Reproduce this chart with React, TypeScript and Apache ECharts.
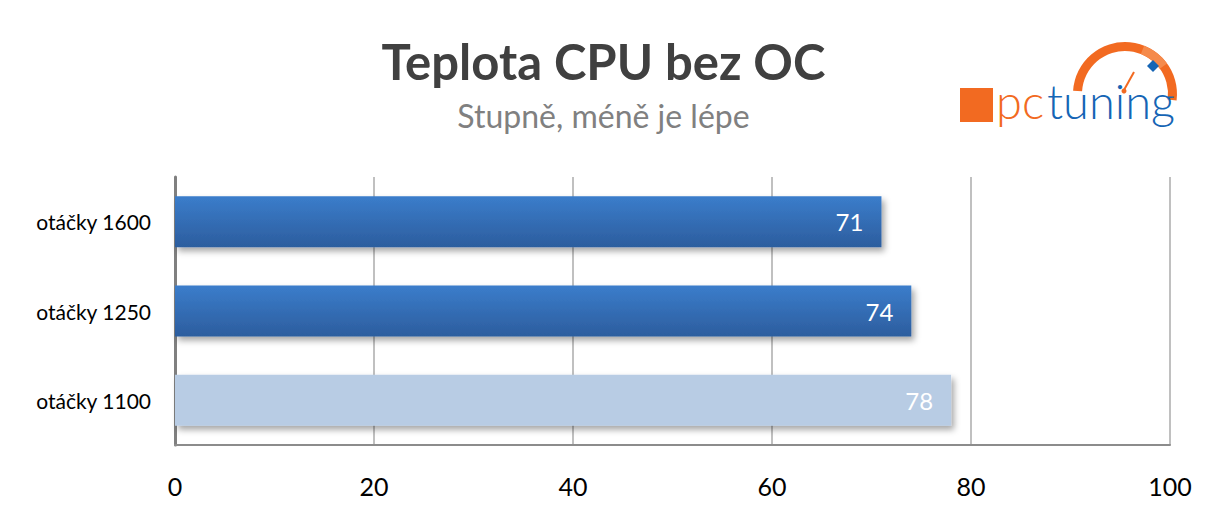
import React, { useEffect, useRef } from "react";
import * as echarts from "echarts";

const categories = ["otáčky 1600", "otáčky 1250", "otáčky 1100"];
const values = [71, 74, 78];
const highlight = [false, false, true];
const xTicks = [0, 20, 40, 60, 80, 100];
const titleText = "Teplota CPU bez OC";
const subtitleText = "Stupně, méně je lépe";

export default function App() {
  const ref = useRef<HTMLDivElement>(null);
  useEffect(() => {
    const chart = echarts.init(ref.current!, null, { renderer: "svg" });
    const dark = new echarts.graphic.LinearGradient(0, 0, 0, 1, [
      { offset: 0, color: "#3b7dcb" },
      { offset: 1, color: "#2c5d9e" },
    ]);
    chart.setOption({
      animation: false,
      backgroundColor: "#ffffff",
      title: {
        text: titleText,
        subtext: subtitleText,
        left: "center",
        top: 31,
        itemGap: 14,
        textStyle: { fontFamily: "Lato", fontWeight: "bold", fontSize: 49, color: "#404040" },
        subtextStyle: { fontFamily: "Lato", fontSize: 32, color: "#808080" },
      },
      grid: { left: 175, right: 37, top: 177, bottom: 70, containLabel: false },
      xAxis: {
        type: "value",
        min: xTicks[0],
        max: xTicks[xTicks.length - 1],
        interval: 20,
        axisLine: { show: true, lineStyle: { color: "#8c8c8c", width: 2 } },
        axisTick: { show: false },
        axisLabel: { fontFamily: "Lato", fontSize: 25, color: "#000", margin: 28 },
        splitLine: { show: true, lineStyle: { color: "#c0c0c0", width: 2 } },
      },
      yAxis: {
        type: "category",
        data: categories,
        inverse: true,
        axisLine: { show: true, lineStyle: { color: "#808080", width: 3 } },
        axisTick: { show: false },
        axisLabel: { fontFamily: "Lato", fontSize: 21, color: "#000", margin: 24 },
      },
      series: [
        {
          type: "bar",
          barWidth: 51,
          data: values.map((v, i) => ({
            value: v,
            itemStyle: {
              color: highlight[i] ? "#b8cce4" : dark,
              shadowBlur: 6,
              shadowOffsetX: 3,
              shadowOffsetY: 4,
              shadowColor: "rgba(0,0,0,0.35)",
            },
          })),
          label: {
            show: true,
            position: "insideRight",
            distance: 18,
            color: "#ffffff",
            fontFamily: "Lato",
            fontSize: 24,
          },
        },
      ],
      graphic: [
        { type: "rect", shape: { x: 960, y: 88, width: 33, height: 34 }, style: { fill: "#f26a21" } },
        {
          type: "sector",
          shape: { cx: 1125, cy: 94, r: 52, r0: 43, startAngle: Math.PI * 1.02, endAngle: Math.PI * 2.04, clockwise: true },
          style: { fill: "#f26a21" },
        },
        {
          type: "sector",
          shape: { cx: 1125, cy: 94, r: 52, r0: 43, startAngle: Math.PI * 1.62, endAngle: Math.PI * 1.8, clockwise: true },
          style: { fill: "#f58a4b" },
        },
        {
          type: "polygon",
          shape: { points: [[1153, 60], [1159, 66], [1153, 72], [1147, 66]] },
          style: { fill: "#1565b5" },
        },
        { type: "line", shape: { x1: 1124, y1: 90, x2: 1134, y2: 72 }, style: { stroke: "#f26a21", lineWidth: 2 } },
        { type: "circle", shape: { cx: 1124, cy: 91, r: 2.5 }, style: { fill: "#f26a21" } },
        {
          type: "text",
          x: 996,
          y: 124,
          style: { text: "pc", fill: "#f26a21", font: "300 47px Lato", textVerticalAlign: "bottom" },
        },
        {
          type: "text",
          x: 1047,
          y: 124,
          style: { text: "tuning", fill: "#1565b5", font: "300 47px Lato", textVerticalAlign: "bottom" },
        },
      ],
    });
    return () => chart.dispose();
  }, []);
  return <div ref={ref} style={{ width: 1207, height: 515, position: "absolute", left: 0, top: 0 }} />;
}
